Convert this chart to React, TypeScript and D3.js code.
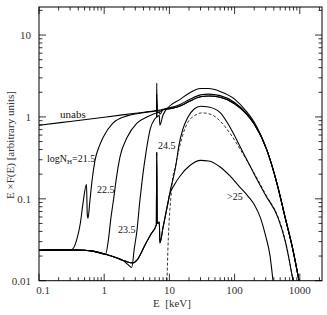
import React, { useEffect, useRef } from 'react';
import * as d3 from 'd3';

type Pt = [number, number];

// axis ticks
const xTickValues = [0.1, 1, 10, 100, 1000];
const xTickLabels = ['0.1', '1', '10', '100', '1000'];
const yTickValues = [0.01, 0.1, 1, 10];
const yTickLabels = ['0.01', '0.1', '1', '10'];

// E [keV], E F(E)
const lowScatter: Pt[] = [
  [0.1, 0.0235], [0.2, 0.0238], [0.3, 0.0238], [0.5, 0.0235], [0.7, 0.0228],
  [1.05, 0.021], [1.5, 0.0192], [1.94, 0.0177], [2.2, 0.0171],
];

const unabs: Pt[] = [
  [0.1, 0.79], [0.3, 0.88], [1, 0.99], [3, 1.11], [6, 1.19], [6.35, 1.2], [6.4, 1.45], [6.45, 1.2],
  [8, 1.24], [10, 1.29], [14.6, 1.42], [20, 1.62], [30, 1.86], [40, 1.9], [60, 1.82], [100, 1.5],
  [150, 1.12], [200, 0.83], [314, 0.39], [450, 0.15], [593, 0.06], [787, 0.0235], [973, 0.01],
];

const thinHard: Pt[] = [
  [8, 1.22], [10, 1.26], [14.6, 1.36], [20, 1.54], [30, 1.76], [40, 1.8], [60, 1.74], [100, 1.45],
  [150, 1.1], [200, 0.82], [314, 0.39], [450, 0.15], [593, 0.06], [787, 0.0235], [973, 0.01],
];

const nh215: Pt[] = [
  ...lowScatter.filter(d => d[0] <= 0.3),
  [0.33, 0.0245], [0.38, 0.032], [0.43, 0.05], [0.47, 0.085], [0.535, 0.15], [0.55, 0.065],
  [0.565, 0.058], [0.6, 0.09], [0.65, 0.165], [0.72, 0.29], [0.85, 0.45], [0.96, 0.56],
  [1.36, 0.84], [2.24, 1.03], [3.5, 1.11], [5.6, 1.17], [6.35, 1.18], [6.4, 1.6], [6.45, 1.18],
  [7.0, 1.19], [7.15, 1.17],
  ...thinHard,
];

const nh225: Pt[] = [
  ...lowScatter.filter(d => d[0] <= 1.05),
  [1.15, 0.03], [1.27, 0.059], [1.42, 0.11], [1.52, 0.168], [1.74, 0.32], [2.24, 0.56],
  [3.18, 0.84], [4.5, 1.0], [5.6, 1.08], [6.35, 1.12], [6.4, 1.9], [6.45, 1.12], [7.0, 1.14],
  [7.15, 1.08],
  ...thinHard,
];

const nh235: Pt[] = [
  ...lowScatter.filter(d => d[0] <= 1.94),
  [2.3, 0.0158], [2.64, 0.0145], [2.9, 0.025], [3.18, 0.041], [3.5, 0.09], [3.82, 0.168],
  [4.4, 0.38], [5.1, 0.72], [6.0, 0.95], [6.35, 1.0], [6.4, 2.58], [6.45, 1.0], [7.0, 1.05],
  [7.15, 0.79], [7.95, 1.05], [10, 1.35], [14.6, 1.64], [20, 1.95], [30, 2.22], [40, 2.22],
  [60, 2.05], [100, 1.65], [150, 1.18], [200, 0.86], [314, 0.39], [450, 0.15], [593, 0.06],
  [787, 0.0235], [973, 0.01],
];

const reflLow: Pt[] = [
  [2.76, 0.0165], [3.2, 0.018], [4.2, 0.027], [5.2, 0.037], [6.3, 0.048], [6.4, 0.37],
  [6.5, 0.05], [7.0, 0.052], [7.15, 0.029], [8, 0.045], [9, 0.072],
];

const nh245: Pt[] = [
  ...lowScatter, ...reflLow,
  [9.5, 0.088], [10, 0.11], [10.5, 0.135], [11.3, 0.17], [12.5, 0.25], [14, 0.45], [16, 0.7],
  [19, 0.98], [24, 1.25], [30, 1.35], [40, 1.32], [60, 1.13], [85, 0.75], [130, 0.39],
  [200, 0.2], [300, 0.11], [463, 0.059], [600, 0.03], [787, 0.01],
];

const nh25: Pt[] = [
  ...lowScatter, ...reflLow,
  [10, 0.11], [12, 0.15], [14.6, 0.19], [20.6, 0.255], [30, 0.295], [40, 0.29], [60, 0.245],
  [85, 0.19], [121, 0.138], [160, 0.108], [200, 0.085], [250, 0.058], [300, 0.035],
  [350, 0.02], [388, 0.01],
];

const transmitted: Pt[] = [
  [9.2, 0.01], [9.5, 0.025], [10, 0.06], [10.5, 0.1], [11, 0.155], [12.5, 0.26], [14, 0.4],
  [16, 0.6], [19, 0.85], [24, 1.03], [32, 1.12], [45, 1.06], [60, 0.89], [85, 0.63], [130, 0.37],
  [200, 0.205], [300, 0.113], [463, 0.06], [600, 0.031], [787, 0.01],
];

const solidCurves = [unabs, nh215, nh225, nh235, nh245, nh25];

const W = 327, H = 315;
const frame = { left: 39, right: 322, top: 7, bottom: 280.7 };

export default function App() {
  const ref = useRef<SVGSVGElement>(null);

  useEffect(() => {
    const svg = d3.select(ref.current);
    svg.selectAll('*').remove();

    const x = d3.scaleLog().domain([0.1, 2190]).range([frame.left, frame.right]);
    const y = d3.scaleLog().domain([0.01, 22]).range([frame.bottom, frame.top]);

    svg.append('defs').append('clipPath').attr('id', 'plot')
      .append('rect')
      .attr('x', frame.left).attr('y', frame.top)
      .attr('width', frame.right - frame.left).attr('height', frame.bottom - frame.top);

    const line = d3.line<Pt>()
      .x(d => x(d[0]))
      .y(d => y(d[1]))
      .curve(d3.curveMonotoneX);

    const g = svg.append('g').attr('clip-path', 'url(#plot)');
    g.selectAll('path.curve')
      .data(solidCurves).enter().append('path')
      .attr('class', 'curve')
      .attr('d', d => line(d))
      .attr('fill', 'none')
      .attr('stroke', '#000')
      .attr('stroke-width', 1.1);

    g.append('path')
      .attr('d', line(transmitted))
      .attr('fill', 'none')
      .attr('stroke', '#000')
      .attr('stroke-width', 0.8)
      .attr('stroke-dasharray', '3,2');

    // frame
    svg.append('rect')
      .attr('x', frame.left).attr('y', frame.top)
      .attr('width', frame.right - frame.left).attr('height', frame.bottom - frame.top)
      .attr('fill', 'none').attr('stroke', '#000').attr('stroke-width', 1);

    const isMajor = (v: number) => Math.abs(Math.log10(v) - Math.round(Math.log10(v))) < 1e-6;

    const xt = x.ticks().filter(v => v >= 0.1 && v <= 2190);
    xt.forEach(v => {
      const len = isMajor(v) ? 7 : 3.5;
      svg.append('line').attr('x1', x(v)).attr('x2', x(v))
        .attr('y1', frame.bottom).attr('y2', frame.bottom - len)
        .attr('stroke', '#000').attr('stroke-width', 0.8);
      svg.append('line').attr('x1', x(v)).attr('x2', x(v))
        .attr('y1', frame.top).attr('y2', frame.top + len)
        .attr('stroke', '#000').attr('stroke-width', 0.8);
    });

    const yt = y.ticks().filter(v => v >= 0.01 && v <= 22);
    yt.forEach(v => {
      const len = isMajor(v) ? 7 : 3.5;
      svg.append('line').attr('y1', y(v)).attr('y2', y(v))
        .attr('x1', frame.left).attr('x2', frame.left + len)
        .attr('stroke', '#000').attr('stroke-width', 0.8);
      svg.append('line').attr('y1', y(v)).attr('y2', y(v))
        .attr('x1', frame.right).attr('x2', frame.right - len)
        .attr('stroke', '#000').attr('stroke-width', 0.8);
    });

    const font = '"Liberation Serif", "DejaVu Serif", serif';

    svg.selectAll('text.xl')
      .data(xTickValues).enter().append('text')
      .attr('class', 'xl')
      .attr('x', (d, i) => x(d) + (i === 0 ? 4 : 0))
      .attr('y', frame.bottom + 13)
      .attr('text-anchor', 'middle')
      .attr('font-family', font).attr('font-size', 11).attr('fill', '#333')
      .text((d, i) => xTickLabels[i]);

    svg.selectAll('text.yl')
      .data(yTickValues).enter().append('text')
      .attr('class', 'yl')
      .attr('x', 31)
      .attr('y', d => y(d) + 4)
      .attr('text-anchor', 'end')
      .attr('font-family', font).attr('font-size', 11).attr('fill', '#333')
      .text((d, i) => yTickLabels[i]);

    svg.append('text')
      .attr('x', 172).attr('y', 307)
      .attr('text-anchor', 'middle')
      .attr('font-family', font).attr('font-size', 11).attr('fill', '#333')
      .attr('xml:space', 'preserve')
      .text('E  [keV]');

    svg.append('text')
      .attr('transform', 'translate(14,145) rotate(-90)')
      .attr('text-anchor', 'middle')
      .attr('font-family', font).attr('font-size', 11).attr('fill', '#333')
      .text('E ×F(E) [arbitrary units]');

    const lab = (tx: number, ty: number, s: string, size = 10) =>
      svg.append('text').attr('x', tx).attr('y', ty)
        .attr('font-family', font).attr('font-size', size).attr('fill', '#111')
        .text(s);

    lab(60, 118, 'unabs', 11);
    const t = lab(47, 162, 'logN');
    t.append('tspan').attr('font-size', 7).attr('dy', 2).text('H');
    t.append('tspan').attr('dy', -2).text('=21.5');
    lab(97, 193, '22.5');
    lab(118, 233, '23.5');
    lab(158, 149, '24.5');
    lab(227, 200, '>25');
  }, []);

  return (
    <svg ref={ref} width={W} height={H}
      style={{ position: 'absolute', left: 0, top: 0, background: '#fff' }} />
  );
}
